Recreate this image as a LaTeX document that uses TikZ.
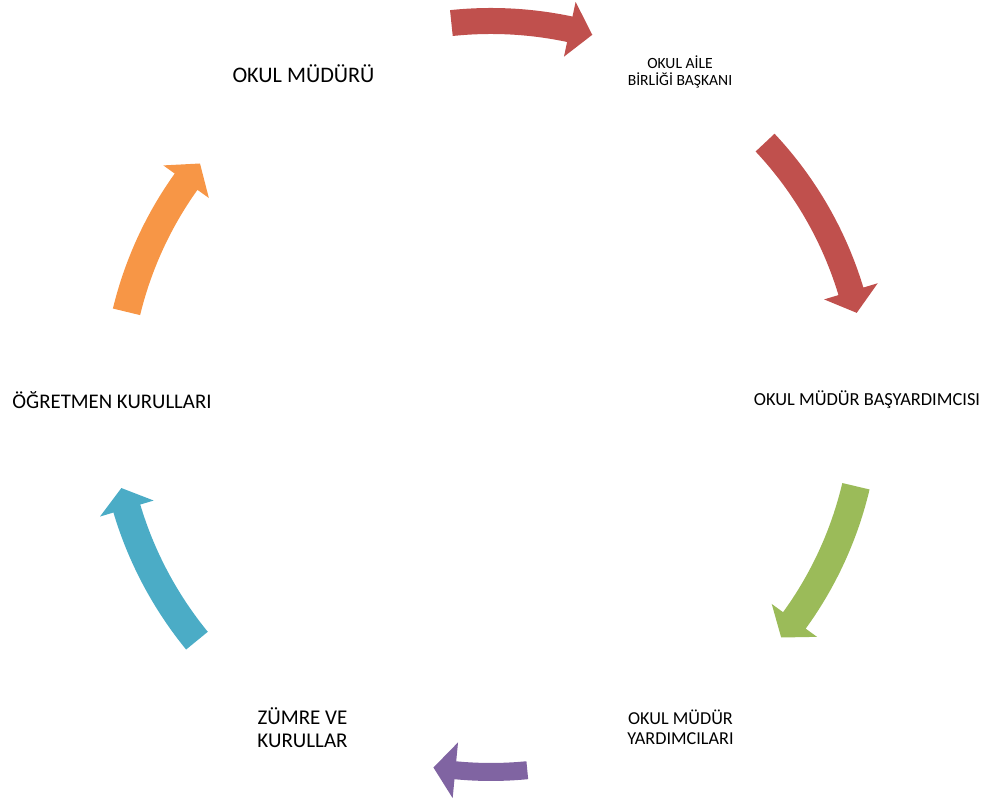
\documentclass[tikz,border=0pt]{standalone}
\usepackage{fontspec}
\setmainfont{Carlito}
\definecolor{arrowred}{HTML}{C0504D}
\definecolor{arrowgreen}{HTML}{9BBB59}
\definecolor{arrowpurple}{HTML}{8064A2}
\definecolor{arrowblue}{HTML}{4BACC6}
\definecolor{arroworange}{HTML}{F79646}

\begin{document}
\begin{tikzpicture}
  [x=0.5pt,y=0.5pt,every node/.style={align=center,inner sep=0pt}]
  \useasboundingbox (-491,-401) rectangle (501,400);
  \node[font=\fontsize{11.1}{13}\selectfont] (a) at (-187.5,326) {OKUL MÜDÜRÜ};
  \node[font=\fontsize{7.8}{8.5}\selectfont] (b) at (189,328) {OKUL AİLE\\BİRLİĞİ BAŞKANI};
  \node[font=\fontsize{9.2}{11}\selectfont] (c) at (376,0) {OKUL MÜDÜR BAŞYARDIMCISI};
  \node[font=\fontsize{9.1}{10}\selectfont] (d) at (189.5,-327.5) {OKUL MÜDÜR\\YARDIMCILARI};
  \node[font=\fontsize{10.5}{11.5}\selectfont] (e) at (-188.5,-327.5) {ZÜMRE VE\\KURULLAR};
  \node[font=\fontsize{10.4}{12}\selectfont] (f) at (-379,0) {ÖĞRETMEN KURULLARI};
  \foreach \col/\tail/\base/\tip/\r/\w in {arrowred/96/78/74.5/379/13,
      arrowred/43.2/16.8/13.4/376/13, arrowgreen/-13.3/-36/-39.3/375/14,
      arrowpurple/-84.4/-95.5/-98.9/372/9, arrowblue/219.3/196.6/193.4/380/14,
      arroworange/166.4/144.4/140.9/375/14}
    \fill[\col] (\tail:\r+\w) arc[start angle=\tail,end angle=\base,radius=\r+\w]
      -- (\base:\r+28) -- (\tip:\r) -- (\base:\r-28) -- (\base:\r-\w)
      arc[start angle=\base,end angle=\tail,radius=\r-\w] -- cycle;
\end{tikzpicture}
\end{document}
